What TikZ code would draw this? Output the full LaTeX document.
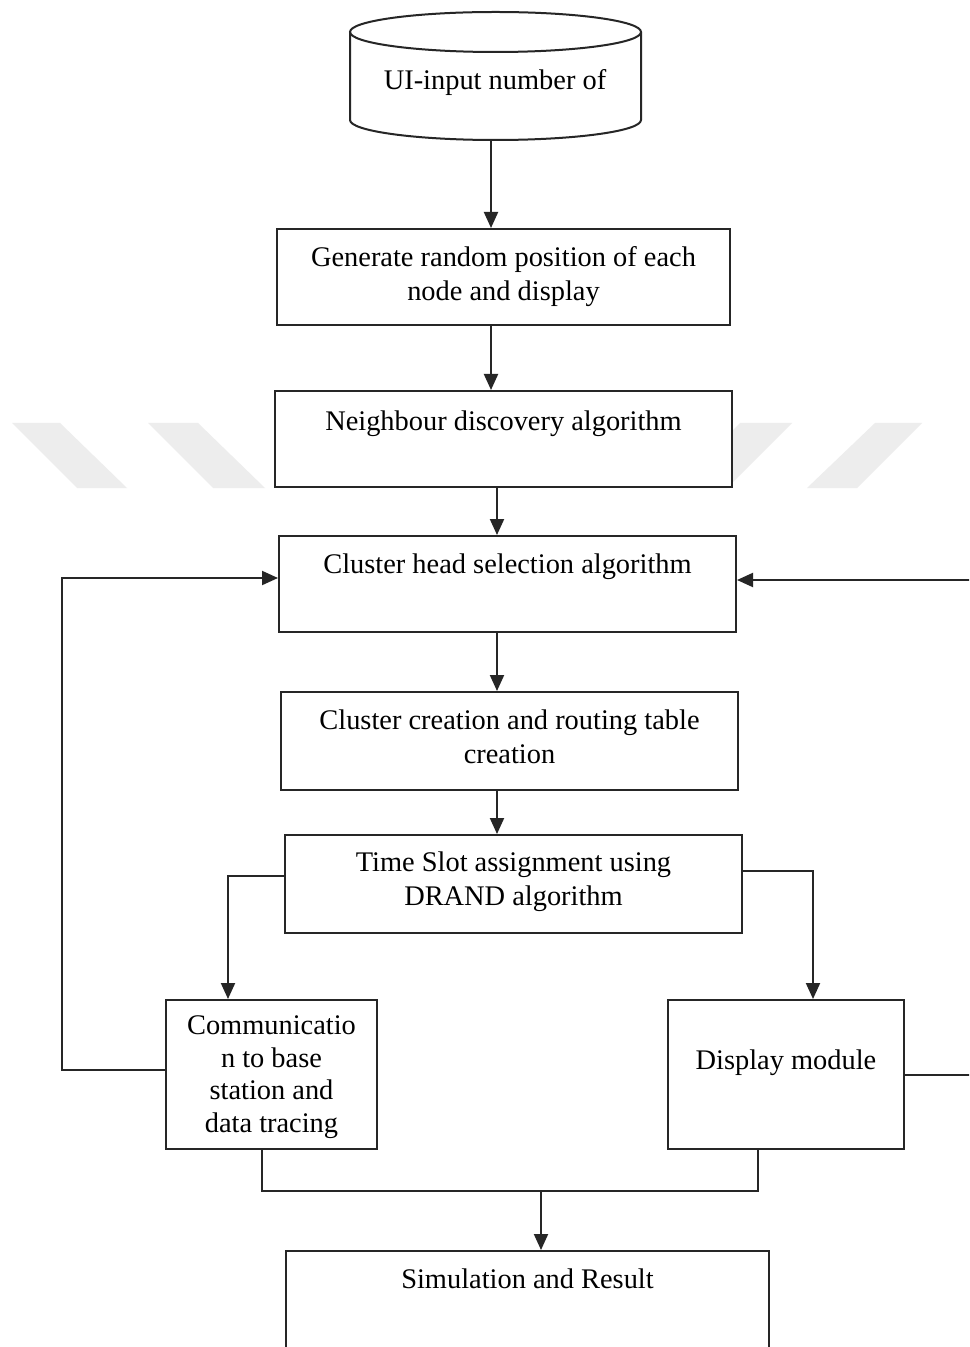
\documentclass[tikz,border=0pt]{standalone}
\usepackage{fontspec}
\setmainfont{Liberation Serif}
\usetikzlibrary{arrows.meta,fit,calc}
\begin{document}
\begin{tikzpicture}[x=0.5pt,y=-0.5pt,
  line/.style={draw=black!85, line width=1pt},
  box/.style={line, fill=white, rectangle, inner sep=0pt},
  arr/.style={line, -{Triangle[length=8pt,width=7pt]}},
  txt/.style={font=\fontsize{14.2pt}{17pt}\selectfont, align=center, inner sep=0pt, anchor=base},
  wm/.style={fill=black!7, draw=none}]
\clip (0,0) rectangle (969,1347);
\fill[white] (0,0) rectangle (969,1347);
% watermark stripes
\fill[wm] (12,423) -- (60,423) -- (127,488) -- (77,488) -- cycle;
\fill[wm] (148,423) -- (198,423) -- (265,488) -- (213,488) -- cycle;
\fill[wm] (740,423) -- (792,423) -- (727,488) -- (675,488) -- cycle;
\fill[wm] (875,423) -- (922,423) -- (857,488) -- (807,488) -- cycle;
% cylinder
\draw[line, fill=white] (350,32) -- (350,120) arc[start angle=180,end angle=360,x radius=72.75pt,y radius=10pt] -- (641,32);
\draw[line] (495.5,32) ellipse [x radius=72.75pt, y radius=10pt];
\node[fit={(350,12) (641,140)}, inner sep=0pt] (c1) {};
\node[txt] (t1) at (495,90) {UI-input number of};
% boxes (text nodes anchored at the baseline of their last line)
\node[box, fit={(277,229) (730,325)}] (b2) {};
\node[txt] (t2) at (b2.north |- 0,301) {Generate random position of each\\node and display};
\node[box, fit={(275,391) (732,487)}] (b3) {};
\node[txt] (t3) at (b3.north |- 0,430) {Neighbour discovery algorithm};
\node[box, fit={(279,536) (736,632)}] (b4) {};
\node[txt] (t4) at (b4.north |- 0,573) {Cluster head selection algorithm};
\node[box, fit={(281,692) (738,790)}] (b5) {};
\node[txt] (t5) at (b5.north |- 0,763) {Cluster creation and routing table\\creation};
\node[box, fit={(285,835) (742,933)}] (b6) {};
\node[txt] (t6) at (b6.north |- 0,905) {Time Slot assignment using\\DRAND algorithm};
\node[box, fit={(166,1000) (377,1149)}] (b7) {};
\node[txt, font=\fontsize{14.2pt}{16.25pt}\selectfont] (t7) at (b7.north |- 0,1132) {Communicatio\\n to base\\station and\\data tracing};
\node[box, fit={(668,1000) (904,1149)}] (b8) {};
\node[txt] (t8) at (b8.north |- 0,1069) {Display module};
\node[box, fit={(286,1251) (769,1370)}] (b9) {};
\node[txt] (t9) at (b9.north |- 0,1288) {Simulation and Result};
% connectors
\draw[arr] (491,0 |- c1.south) -- (491,0 |- b2.north);
\draw[arr] (491,0 |- b2.south) -- (491,0 |- b3.north);
\draw[arr] (497,0 |- b3.south) -- (497,0 |- b4.north);
\draw[arr] (497,0 |- b4.south) -- (497,0 |- b5.north);
\draw[arr] (497,0 |- b5.south) -- (497,0 |- b6.north);
\draw[arr] (b6.west |- 0,876) -| (228,0 |- b7.north);
\draw[arr] (b6.east |- 0,871) -| (813,0 |- b8.north);
\draw[arr] (b7.west |- 0,1070) -- (62,1070) |- (b4.west |- 0,578);
\draw[arr] (b8.east) -- (1000,0 |- b8.east) |- (b4.east |- 0,580);
\coordinate (m) at (541,1191);
\draw[line] (262,0 |- b7.south) |- (m) -| (758,0 |- b8.south);
\draw[arr] (m) -- (m |- b9.north);
\end{tikzpicture}
\end{document}
